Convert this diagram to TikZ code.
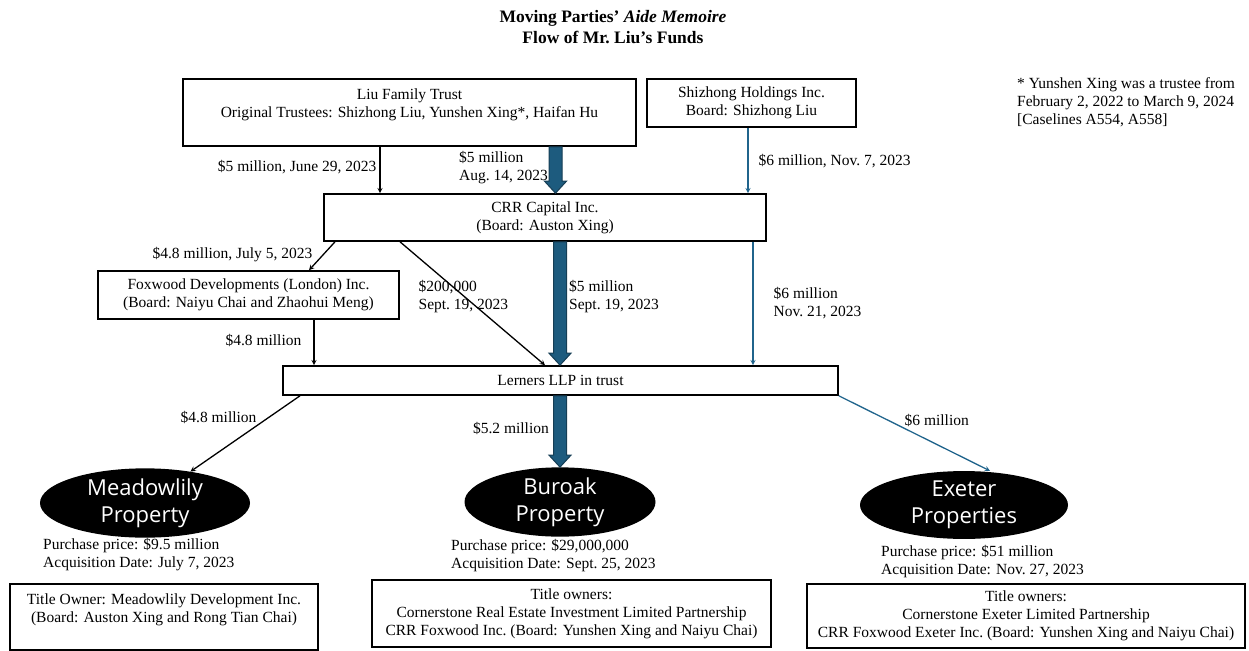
\documentclass[tikz,border=0pt]{standalone}
\usepackage{fontspec}
\setmainfont{Liberation Serif}
\newfontfamily\ovalfont{Open Sans}
\usepackage[svgnames]{xcolor}
\usetikzlibrary{positioning, arrows, calc, shapes.geometric}
\definecolor{flowblue}{HTML}{20648C}
\definecolor{fatfill}{HTML}{1D5B7E}
\definecolor{fatline}{HTML}{163E55}
\newcommand{\fatflow}[2]{%
  \filldraw[fat] let \p1=(#1), \p2=(#2) in
    (\x1-6.5,\y1) -- (\x1+6.5,\y1) -- (\x1+6.5,\y2+12) -- (\x1+11,\y2+12)
    -- (\x1,\y2) -- (\x1-11,\y2+12) -- (\x1-6.5,\y2+12) -- cycle;
}

\begin{document}
\begin{tikzpicture}[x=1pt,y=-1pt,
  every node/.style={font=\fontsize{15.5}{18}\selectfont},
  box/.style={draw,line width=1.6pt,rectangle,align=center,inner sep=0pt},
  prop/.style={ellipse,fill=black,text=white,inner sep=0pt,align=center,
    font=\ovalfont\fontsize{22}{27}\selectfont},
  lbl/.style={inner sep=0pt,align=left},
  flow/.style={-stealth,line width=1.3pt},
  blueflow/.style={flow,draw=flowblue},
  fat/.style={fill=fatfill,draw=fatline,line width=1pt}]
\useasboundingbox (0,0) rectangle (1249,650);

\node[font=\bfseries\fontsize{17.5}{21}\selectfont,align=center] (title) at (613,27)
  {Moving Parties' \textit{Aide Memoire}\\Flow of Mr.\ Liu's Funds};
\node[lbl,anchor=north west] (note) at (1017,77)
  {* Yunshen Xing was a trustee from\\February 2, 2022 to March 9, 2024\\{[}Caselines A554, A558{]}};

\node[box,minimum width=453,minimum height=67] (liu) at (409.5,112.5)
  {Liu Family Trust\\Original Trustees: Shizhong Liu, Yunshen Xing*, Haifan Hu\\\mbox{}};
\node[box,minimum width=209,minimum height=48] (shz) at (751.5,103)
  {Shizhong Holdings Inc.\\Board: Shizhong Liu};
\node[box,minimum width=442,minimum height=47] (crr) at (545,217.5)
  {CRR Capital Inc.\\(Board: Auston Xing)};
\node[box,minimum width=301,minimum height=48] (fox) at (248.5,295)
  {Foxwood Developments (London) Inc.\\(Board: Naiyu Chai and Zhaohui Meng)};
\node[box,minimum width=555,minimum height=29] (lern) at (560.5,380.5)
  {Lerners LLP in trust};

\node[prop,minimum width=210,minimum height=58] (meadow) at (145,503) {Meadowlily\\Property};
\node[prop,minimum width=191,minimum height=56] (buroak) at (560,502) {Buroak\\Property};
\node[prop,minimum width=208,minimum height=66] (exeter) at (964,505) {Exeter\\Properties};

\node[lbl,anchor=west] (mprice) at (43,554.5)
  {Purchase price: \$9.5 million\\Acquisition Date: July 7, 2023};
\node[lbl,anchor=west] (bprice) at (451,555.5)
  {Purchase price: \$29,000,000\\Acquisition Date: Sept.\ 25, 2023};
\node[lbl,anchor=west] (eprice) at (881,561.5)
  {Purchase price: \$51 million\\Acquisition Date: Nov.\ 27, 2023};

\node[box,minimum width=308,minimum height=66] (mtitle) at (164,617)
  {Title Owner: Meadowlily Development Inc.\\(Board: Auston Xing and Rong Tian Chai)\\\mbox{}};
\node[box,minimum width=399,minimum height=67] (btitle) at (571.5,613.5)
  {Title owners:\\Cornerstone Real Estate Investment Limited Partnership\\CRR Foxwood Inc.\ (Board: Yunshen Xing and Naiyu Chai)};
\node[box,minimum width=438,minimum height=64] (etitle) at (1026,616)
  {Title owners:\\Cornerstone Exeter Limited Partnership\\CRR Foxwood Exeter Inc.\ (Board: Yunshen Xing and Naiyu Chai)};

\draw[flow] (liu.south -| 380,0) -- (crr.north -| 380,0)
  node[lbl,anchor=east] at (377,167) {\$5 million, June 29, 2023};
\fatflow{liu.south -| 555.5,0}{crr.north -| 555.5,0}
\node[lbl,anchor=west] at (459,168) {\$5 million\\Aug.\ 14, 2023};
\draw[blueflow] (shz.south -| 748,0) -- (crr.north -| 748,0)
  node[lbl,anchor=west] at (758,161) {\$6 million, Nov.\ 7, 2023};

\draw[flow] (crr.south -| 335,0) -- (fox.north -| 309,0)
  node[lbl,anchor=east] at (313,255) {\$4.8 million, July 5, 2023};
\draw[flow] (crr.south -| 400,0) -- (lern.north -| 545,0)
  node[lbl,anchor=west] at (418,297) {\$200,000\\Sept.\ 19, 2023};
\fatflow{crr.south -| 560,0}{lern.north -| 560,0}
\node[lbl,anchor=west] at (569,297) {\$5 million\\Sept.\ 19, 2023};
\draw[blueflow] (crr.south -| 753,0) -- (lern.north -| 753,0)
  node[lbl,anchor=west] at (773,303) {\$6 million\\Nov.\ 21, 2023};
\draw[flow] (fox.south -| 314,0) -- (lern.north -| 314,0)
  node[lbl,anchor=east] at (302,340) {\$4.8 million};

\draw[flow] (lern.south -| 300,0) -- (meadow)
  node[lbl,anchor=west] at (180,417) {\$4.8 million};
\fatflow{lern.south -| 560,0}{buroak.north -| 560,0}
\node[lbl,anchor=east] at (549,428) {\$5.2 million};
\draw[blueflow] (lern.south east) -- (exeter.north -| 990,0)
  node[lbl,anchor=west] at (904,420) {\$6 million};
\end{tikzpicture}
\end{document}
